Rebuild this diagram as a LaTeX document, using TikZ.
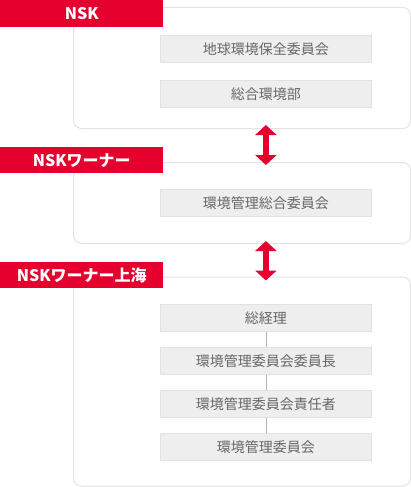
\documentclass[tikz,border=0pt]{standalone}
\usepackage{fontspec}
\setmainfont{Noto Sans CJK JP}
\usetikzlibrary{arrows.meta}
\usetikzlibrary{positioning}
\definecolor{nskred}{HTML}{E5002D}
\definecolor{boxgray}{HTML}{EEEEEE}
\definecolor{boxline}{HTML}{E2E2E2}
\definecolor{frameline}{HTML}{E3E3E3}
\definecolor{textgray}{HTML}{666666}
\tikzset{frame/.style = {draw = frameline, line width = 1pt, rounded corners = 8pt, anchor = north west, minimum width = 337pt, inner sep = 0}}
\tikzset{tag/.style = {fill = nskred, text = white, font = \bfseries\fontsize{16pt}{16pt}\selectfont, anchor = north west, minimum width = 163pt, minimum height = 26pt, inner sep = 0}}
\tikzset{unit/.style = {fill = boxgray, draw = boxline, line width = 0.8pt, text = textgray, font = \fontsize{14pt}{14pt}\selectfont, anchor = north west, minimum width = 211pt, minimum height = 27pt, inner sep = 0}}
\tikzset{link/.style = {nskred, line width = 5.5pt, {Triangle[width = 21pt, length = 10pt]}-{Triangle[width = 21pt, length = 10pt]}}}

\begin{document}
\begin{tikzpicture}[x = 1pt, y = -1pt]
      \useasboundingbox (0, 0) rectangle (411, 487);

      \node [frame, minimum height = 121pt] (nsk) at (73, 7) {};
      \node [frame, minimum height = 81pt] (warner) at (73, 162) {};
      \node [frame, minimum height = 209pt] (shanghai) at (73, 276.5) {};

      \node [tag, minimum height = 27pt] (nsktag) at (0, 0) {NSK};
      \node [tag] (warnertag) at (0, 147) {NSKワーナー};
      \node [tag] (shanghaitag) at (0, 262) {NSKワーナー上海};

      \node [unit] (committee) at (160, 35) {地球環境保全委員会};
      \node [unit] (dept) at (160, 80) {総合環境部};
      \node [unit] (general) at (160, 189) {環境管理総合委員会};

      \node [unit] (c1) at (160, 304) {総経理};
      \node [unit] (c2) at (160, 347) {環境管理委員会委員長};
      \node [unit] (c3) at (160, 390) {環境管理委員会責任者};
      \node [unit] (c4) at (160, 433) {環境管理委員会};

      \foreach \i/\j in {c1/c2, c2/c3, c3/c4} {
        \draw [black!30, line width = 0.8pt] (\i) -- (\j);
      }

      \draw [link] ([yshift = 4pt] dept.center |- nsk.south) -- ([yshift = -3pt] dept.center |- warner.north);
      \draw [link] ([yshift = 3pt] general.center |- warner.south) -- ([yshift = -4pt] general.center |- shanghai.north);
    \end{tikzpicture}
\end{document}
